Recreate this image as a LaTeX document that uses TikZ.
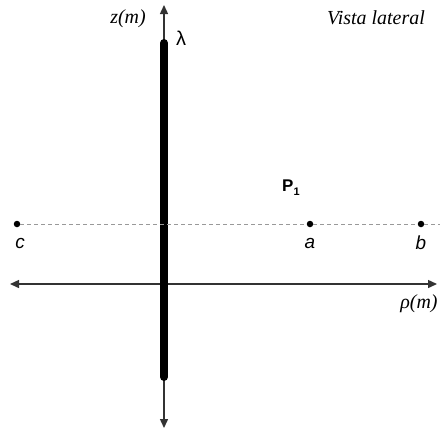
\documentclass[tikz,border=0pt]{standalone}
\usepackage{fontspec}
\setmainfont{Liberation Serif}
\newfontfamily\arialf{Liberation Sans}
\usetikzlibrary{arrows.meta}
\begin{document}
\begin{tikzpicture}[x=1bp,y=-1bp,
  axis/.style={draw=black!80,line width=1.4bp,-{Triangle[length=9bp,width=8bp]}},
  dotpt/.style={circle,fill=black,inner sep=0pt,minimum size=6.5bp},
  lab/.style={font=\arialf\itshape\fontsize{19}{19}\selectfont,inner sep=0pt},
  tlab/.style={font=\itshape\fontsize{20}{20}\selectfont,inner sep=0pt}]
\useasboundingbox (0,0) rectangle (440,432);
\coordinate (zt) at (164,5);
\coordinate (zb) at (164,428);
\coordinate (rl) at (10,284);
\coordinate (rr) at (437,284);
\draw[axis] (164,284) -- (zt);
\draw[axis] (164,284) -- (zb);
\draw[axis] (164,284) -- (rl);
\draw[axis] (164,284) -- (rr);
\coordinate (lt) at (164,43);
\coordinate (lb) at (164,377);
\draw[line width=8bp,line cap=round] (lt) -- (lb);
\node[dotpt] (c) at (17,224) {};
\node[dotpt] (a) at (310,224) {};
\node[dotpt] (b) at (421,224) {};
\coordinate (dr) at (440,224);
\draw[black!40,line width=0.8bp,dash pattern=on 4bp off 3bp] (c) -- (a) -- (b) -- (dr);
\node[lab] (cl) at (20,243) {c};
\node[lab] (al) at (310,243) {a};
\node[lab] (bl) at (421,243) {b};
\node[font=\arialf\bfseries\fontsize{17}{17}\selectfont,inner sep=0pt,anchor=base west] (p1) at (282,191.5) {P\raisebox{-3.5bp}{\fontsize{11}{11}\selectfont 1}};
\node[font=\arialf\fontsize{20}{20}\selectfont,inner sep=0pt,anchor=base] (lam) at (181,45) {λ};
\node[tlab] (zl) at (128,19) {z(m)};
\node[tlab] (vl) at (376,18) {Vista lateral};
\node[tlab] (rho) at (419,304) {ρ(m)};
\end{tikzpicture}
\end{document}
